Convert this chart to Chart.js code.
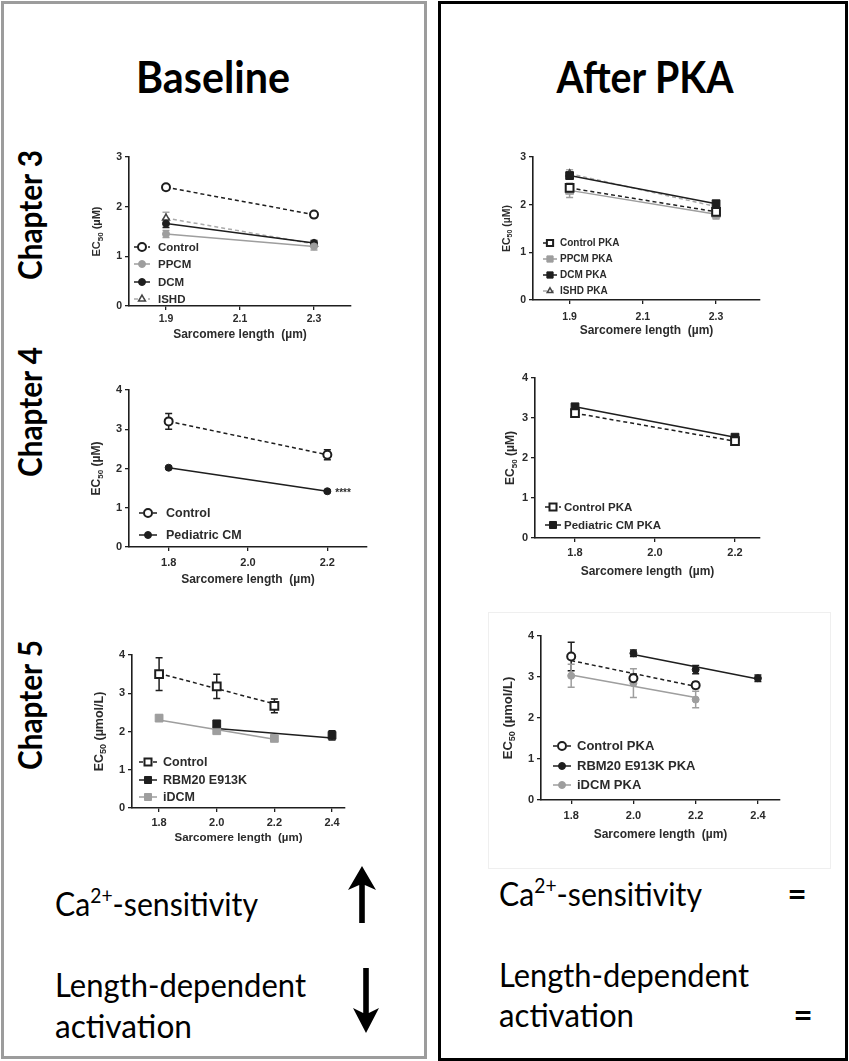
<!DOCTYPE html>
<html>
<head>
<meta charset="utf-8">
<title>EC50 vs sarcomere length</title>
<script src="https://cdn.jsdelivr.net/npm/chart.js@4.4.1/dist/chart.umd.min.js"></script>
<style>
  html, body { margin: 0; padding: 0; background: #fff; }
  body { position: relative; width: 849px; height: 1061px; overflow: hidden; }
  #frame { position: absolute; left: 0; top: 0; }
  .plot { position: absolute; }
</style>
</head>
<body>
<svg id="frame" width="849" height="1061" font-family="Lato, 'Open Sans', sans-serif" fill="#000">
  <rect x="2.5" y="2.5" width="423" height="1055" fill="none" stroke="#9c9c9c" stroke-width="3"/>
  <rect x="439.5" y="2.5" width="407" height="1057" fill="none" stroke="#000" stroke-width="3"/>
  <rect x="488.5" y="612.5" width="342" height="256" fill="none" stroke="#efefef" stroke-width="1"/>

  <text x="213" y="93" font-size="44" font-weight="bold" text-anchor="middle" textLength="154" lengthAdjust="spacingAndGlyphs">Baseline</text>
  <text x="645" y="93" font-size="44" font-weight="bold" text-anchor="middle" textLength="177" lengthAdjust="spacingAndGlyphs">After PKA</text>

  <text transform="translate(42,215) rotate(-90)" font-size="32" font-weight="bold" text-anchor="middle" textLength="130" lengthAdjust="spacingAndGlyphs">Chapter 3</text>
  <text transform="translate(42,412) rotate(-90)" font-size="32" font-weight="bold" text-anchor="middle" textLength="130" lengthAdjust="spacingAndGlyphs">Chapter 4</text>
  <text transform="translate(42,705) rotate(-90)" font-size="32" font-weight="bold" text-anchor="middle" textLength="130" lengthAdjust="spacingAndGlyphs">Chapter 5</text>

  <text x="55" y="916" font-size="33" textLength="203" lengthAdjust="spacingAndGlyphs">Ca<tspan dy="-13" font-size="21">2+</tspan><tspan dy="13">-sensitivity</tspan></text>
  <text x="55" y="997" font-size="33" textLength="251" lengthAdjust="spacingAndGlyphs">Length-dependent</text>
  <text x="55" y="1038" font-size="33" textLength="137" lengthAdjust="spacingAndGlyphs">activation</text>
  <path d="M362 866 L376 890 L364.8 885 L364.8 923 L359.2 923 L359.2 885 L348 890 Z"/>
  <path d="M366 1033 L379 1008 L368.8 1013 L368.8 968 L363.2 968 L363.2 1013 L353 1008 Z"/>

  <text x="499" y="906" font-size="33" textLength="203" lengthAdjust="spacingAndGlyphs">Ca<tspan dy="-13" font-size="21">2+</tspan><tspan dy="13">-sensitivity</tspan></text>
  <text x="797" y="906" font-size="33" font-weight="bold" text-anchor="middle">=</text>
  <text x="499" y="987" font-size="33" textLength="250" lengthAdjust="spacingAndGlyphs">Length-dependent</text>
  <text x="499" y="1027" font-size="33" textLength="135" lengthAdjust="spacingAndGlyphs">activation</text>
  <text x="803" y="1027" font-size="33" font-weight="bold" text-anchor="middle">=</text>
</svg>

<script>
// sarcomere length positions and tick labels
const slCh3 = [1.9, 2.3];
const slCh4 = [1.8, 2.2];
const slCh5 = [1.8, 2.0, 2.2, 2.4];
const xTicksCh3 = [1.9, 2.1, 2.3];
const xTicksCh4 = [1.8, 2.0, 2.2];
const xTicksCh5 = [1.8, 2.0, 2.2, 2.4];
const yTicks3 = [0, 1, 2, 3];
const yTicks4 = [0, 1, 2, 3, 4];

// Chapter 3 - baseline, EC50 (uM) mean and SEM
const labelsCh3 = ['Control', 'PPCM', 'DCM', 'ISHD'];
const ch3Control = [2.39, 1.84];
const ch3ControlSem = [0.05, 0.04];
const ch3PPCM = [1.45, 1.2];
const ch3PPCMSem = [0.07, 0.07];
const ch3DCM = [1.66, 1.27];
const ch3DCMSem = [0.08, 0.05];
const ch3ISHD = [1.77, 1.25];
const ch3ISHDSem = [0.12, 0.06];

// Chapter 3 - after PKA
const labelsCh3PKA = ['Control PKA', 'PPCM PKA', 'DCM PKA', 'ISHD PKA'];
const ch3ControlPKA = [2.35, 1.85];
const ch3ControlPKASem = [0.08, 0.06];
const ch3PPCMPKA = [2.3, 1.8];
const ch3PPCMPKASem = [0.15, 0.1];
const ch3DCMPKA = [2.61, 2.02];
const ch3DCMPKASem = [0.07, 0.06];
const ch3ISHDPKA = [2.65, 1.96];
const ch3ISHDPKASem = [0.08, 0.08];

// Chapter 4
const labelsCh4 = ['Control', 'Pediatric CM'];
const ch4Control = [3.2, 2.35];
const ch4ControlSem = [0.2, 0.13];
const ch4PedCM = [2.02, 1.42];
const ch4PedCMSem = [0.03, 0.03];
const labelsCh4PKA = ['Control PKA', 'Pediatric CM PKA'];
const ch4ControlPKA = [3.12, 2.42];
const ch4ControlPKASem = [0.05, 0.05];
const ch4PedCMPKA = [3.28, 2.52];
const ch4PedCMPKASem = [0.05, 0.05];

// Chapter 5 - EC50 (umol/L), points plus drawn fit lines
const labelsCh5 = ['Control', 'RBM20 E913K', 'iDCM'];
const ch5Control = [3.5, 3.18, 2.67, null];
const ch5ControlSem = [0.43, 0.32, 0.18, null];
const ch5ControlFit = [3.52, null, 2.72, null];
const ch5RBM20 = [null, 2.2, null, 1.9];
const ch5RBM20Sem = [null, 0.07, null, 0.12];
const ch5RBM20Fit = [null, 2.08, null, 1.83];
const ch5iDCM = [2.35, 2.02, 1.82, null];
const ch5iDCMSem = [0.08, 0.05, 0.07, null];
const ch5iDCMFit = [2.3, null, 1.8, null];

const labelsCh5PKA = ['Control PKA', 'RBM20 E913K PKA', 'iDCM PKA'];
const ch5ControlPKA = [3.5, 2.97, 2.8, null];
const ch5ControlPKASem = [0.35, 0.1, 0.08, null];
const ch5ControlPKAFit = [3.4, null, 2.77, null];
const ch5RBM20PKA = [null, 3.58, 3.18, 2.97];
const ch5RBM20PKASem = [null, 0.08, 0.1, 0.08];
const ch5RBM20PKAFit = [null, 3.55, null, 2.95];
const ch5iDCMPKA = [3.03, 2.85, 2.45, null];
const ch5iDCMPKASem = [0.28, 0.35, 0.2, null];
const ch5iDCMPKAFit = [3.05, null, 2.5, null];

const ARIAL = '"Liberation Sans", Arial, Helvetica, sans-serif';
const INK = '#1e1e1e';
const GRAY = '#9e9e9e';
const TXT = '#2b2b2b';

// marker / line looks
const openCircle = { shape: 'circle', fill: '#fff', color: INK, dash: [4, 3], r: 4, bw: 2 };
const blackCircle = { shape: 'circle', fill: INK, color: INK, r: 3.5, bw: 1 };
const grayCircle = { shape: 'circle', fill: GRAY, color: GRAY, r: 3.5, bw: 1 };
const triangle = { shape: 'triangle', fill: '#fff', color: '#444', line: '#aaaaaa', err: '#aaaaaa', dash: [4, 3], r: 4, bw: 1.5 };
const openSquare = { shape: 'rect', fill: '#fff', color: INK, dash: [4, 3], r: 5.5, bw: 2 };
const blackSquare = { shape: 'rect', fill: INK, color: INK, r: 5.5, bw: 1 };
const graySquare = { shape: 'rect', fill: GRAY, color: GRAY, r: 5.5, bw: 1 };

function pts(xs, ys, es) {
  const out = [];
  xs.forEach((x, i) => {
    if (ys[i] != null) out.push({ x: x, y: ys[i], e: es ? es[i] : 0 });
  });
  return out;
}

function series(label, xs, ys, es, st, line) {
  return {
    legendText: label,
    data: pts(xs, ys, es),
    showLine: line !== false,
    borderColor: st.line || st.color,
    borderWidth: 1.5,
    borderDash: st.dash || [],
    pointStyle: st.shape,
    pointRadius: st.r,
    pointBackgroundColor: st.fill,
    pointBorderColor: st.color,
    pointBorderWidth: st.bw,
    errColor: st.err || st.color,
    errCap: st.cap || 3.5,
    tension: 0,
    spanGaps: true
  };
}

function fit(xs, ys, st) {
  return {
    data: pts(xs, ys),
    showLine: true,
    pointRadius: 0,
    borderColor: st.line || st.color,
    borderWidth: 1.5,
    borderDash: st.dash || [],
    tension: 0,
    spanGaps: true
  };
}

const gpPlugin = {
  id: 'gp',
  beforeDatasetsDraw(chart) {
    const ctx = chart.ctx, xs = chart.scales.x, ys = chart.scales.y;
    chart.data.datasets.forEach(ds => {
      if (!ds.errCap) return;
      ctx.save();
      ctx.strokeStyle = ds.errColor;
      ctx.lineWidth = 1.5;
      ds.data.forEach(p => {
        if (!p.e) return;
        const px = xs.getPixelForValue(p.x);
        const t = ys.getPixelForValue(p.y + p.e);
        const b = ys.getPixelForValue(p.y - p.e);
        ctx.beginPath();
        ctx.moveTo(px, t); ctx.lineTo(px, b);
        ctx.moveTo(px - ds.errCap, t); ctx.lineTo(px + ds.errCap, t);
        ctx.moveTo(px - ds.errCap, b); ctx.lineTo(px + ds.errCap, b);
        ctx.stroke();
      });
      ctx.restore();
    });
  },
  afterDraw(chart, args, o) {
    const ctx = chart.ctx, area = chart.chartArea, g = o.g;
    const cx = px => area.left + (px - g.ax);
    const cy = py => area.bottom + (py - g.bottom);

    // y title with subscript
    ctx.save();
    ctx.translate(area.left + g.ytDx, (area.top + area.bottom) / 2);
    ctx.rotate(-Math.PI / 2);
    ctx.fillStyle = TXT;
    ctx.textBaseline = 'middle';
    const big = 'bold ' + g.ytSize + 'px ' + ARIAL;
    const small = 'bold ' + Math.round(g.ytSize * 0.7) + 'px ' + ARIAL;
    ctx.font = big;
    const w1 = ctx.measureText('EC').width;
    const w3 = ctx.measureText(' ' + g.unit).width;
    ctx.font = small;
    const w2 = ctx.measureText('50').width;
    let x = -(w1 + w2 + w3) / 2;
    ctx.font = big; ctx.fillText('EC', x, 0); x += w1;
    ctx.font = small; ctx.fillText('50', x, g.ytSize * 0.32); x += w2;
    ctx.font = big; ctx.fillText(' ' + g.unit, x, 0);
    ctx.restore();

    // legend inside the plot
    const L = g.legend;
    let row = 0;
    chart.data.datasets.forEach(ds => {
      if (!ds.legendText) return;
      const y = cy(L.rows[row++]);
      const mx = cx(L.mx);
      ctx.save();
      ctx.strokeStyle = ds.borderColor;
      ctx.lineWidth = 1.5;
      ctx.setLineDash(ds.borderDash);
      ctx.beginPath();
      ctx.moveTo(mx - L.half, y); ctx.lineTo(mx + L.half, y);
      ctx.stroke();
      ctx.setLineDash([]);
      ctx.fillStyle = ds.pointBackgroundColor;
      ctx.strokeStyle = ds.pointBorderColor;
      ctx.lineWidth = ds.pointBorderWidth;
      Chart.helpers.drawPoint(ctx, { pointStyle: ds.pointStyle, radius: ds.pointRadius * L.scale, borderWidth: ds.pointBorderWidth, rotation: 0 }, mx, y);
      ctx.fillStyle = TXT;
      ctx.font = 'bold ' + L.size + 'px ' + ARIAL;
      ctx.textBaseline = 'middle';
      ctx.fillText(ds.legendText, cx(L.tx), y + 0.5);
      ctx.restore();
    });

    // significance marks
    (g.notes || []).forEach(n => {
      ctx.save();
      ctx.fillStyle = TXT;
      ctx.font = 'bold 10px ' + ARIAL;
      ctx.textBaseline = 'middle';
      ctx.fillText(n.text, chart.scales.x.getPixelForValue(n.x) + n.dx, chart.scales.y.getPixelForValue(n.y) + 2);
      ctx.restore();
    });
  }
};

function makePanel(g, datasets) {
  const left = g.ax - 55, top = g.top - 10;
  const w = g.right + 8 - left;
  const h = g.titleY + 11 - top;
  const xh = g.titleY + 11 - g.bottom;

  const wrap = document.createElement('div');
  wrap.className = 'plot';
  wrap.style.left = left + 'px';
  wrap.style.top = top + 'px';
  const cv = document.createElement('canvas');
  cv.width = w; cv.height = h;
  cv.style.width = w + 'px'; cv.style.height = h + 'px';
  wrap.appendChild(cv);
  document.body.appendChild(wrap);

  const axisGrid = { display: true, drawOnChartArea: false, drawTicks: true, tickLength: 4, color: INK, lineWidth: 1.3 };
  const axisBorder = { display: true, color: INK, width: 1.6 };
  const tickFont = { family: ARIAL, size: g.tickSize, weight: 'bold' };

  new Chart(cv, {
    type: 'line',
    data: { datasets: datasets },
    plugins: [gpPlugin],
    options: {
      responsive: false,
      animation: false,
      devicePixelRatio: 1,
      layout: { padding: { left: 0, top: 10, right: 8, bottom: 0 } },
      plugins: { legend: { display: false }, tooltip: { enabled: false }, gp: { g: g } },
      scales: {
        x: {
          type: 'linear', min: g.xmin, max: g.xmax,
          afterBuildTicks: s => { s.ticks = g.xticks.map(v => ({ value: v })); },
          afterFit: s => { s.height = xh; },
          ticks: { autoSkip: false, maxRotation: 0, font: tickFont, color: TXT, padding: g.tickPad, callback: v => v.toFixed(1) },
          grid: axisGrid,
          border: axisBorder,
          title: { display: true, text: 'Sarcomere length  (µm)', color: TXT, font: { family: ARIAL, size: g.titleSize, weight: 'bold' }, padding: { top: 0, bottom: 4 } }
        },
        y: {
          type: 'linear', min: 0, max: g.ymax,
          afterBuildTicks: s => { s.ticks = g.yticks.map(v => ({ value: v })); },
          afterFit: s => { s.width = 55; },
          ticks: { autoSkip: false, font: tickFont, color: TXT, padding: 3 },
          grid: axisGrid,
          border: axisBorder
        }
      }
    }
  });
}

// Chapter 3 baseline
makePanel({
  ax: 129, top: 157, bottom: 306, right: 351, xmin: 1.8, xmax: 2.4, ymax: 3,
  xticks: xTicksCh3, yticks: yTicks3, tickSize: 10.5, tickPad: 3, titleSize: 12, titleY: 335,
  unit: '(µM)', ytSize: 11, ytDx: -32,
  legend: { rows: [247, 264, 282, 299], mx: 142, tx: 158, half: 8, size: 11.5, scale: 1 }
}, [
  series(labelsCh3[0], slCh3, ch3Control, ch3ControlSem, openCircle),
  series(labelsCh3[1], slCh3, ch3PPCM, ch3PPCMSem, grayCircle),
  series(labelsCh3[2], slCh3, ch3DCM, ch3DCMSem, blackCircle),
  series(labelsCh3[3], slCh3, ch3ISHD, ch3ISHDSem, triangle)
]);

// Chapter 3 after PKA
makePanel({
  ax: 533, top: 157, bottom: 300, right: 760, xmin: 1.8, xmax: 2.42, ymax: 3,
  xticks: xTicksCh3, yticks: yTicks3, tickSize: 10.5, tickPad: 7, titleSize: 12, titleY: 331,
  unit: '(µM)', ytSize: 10.5, ytDx: -26,
  legend: { rows: [243, 259, 275, 291], mx: 550, tx: 560, half: 7, size: 10, scale: 0.8 }
}, [
  series(labelsCh3PKA[0], slCh3, ch3ControlPKA, ch3ControlPKASem, openSquare),
  series(labelsCh3PKA[1], slCh3, ch3PPCMPKA, ch3PPCMPKASem, graySquare),
  series(labelsCh3PKA[2], slCh3, ch3DCMPKA, ch3DCMPKASem, blackSquare),
  series(labelsCh3PKA[3], slCh3, ch3ISHDPKA, ch3ISHDPKASem, triangle)
]);

// Chapter 4 baseline
makePanel({
  ax: 129, top: 390, bottom: 547, right: 367, xmin: 1.7, xmax: 2.3, ymax: 4,
  xticks: xTicksCh4, yticks: yTicks4, tickSize: 11, tickPad: 5, titleSize: 12, titleY: 580,
  unit: '(µM)', ytSize: 12, ytDx: -32,
  legend: { rows: [513, 535], mx: 148, tx: 166, half: 9, size: 12.5, scale: 1 },
  notes: [{ x: 2.2, y: ch4PedCM[1], text: '****', dx: 8 }]
}, [
  series(labelsCh4[0], slCh4, ch4Control, ch4ControlSem, openCircle),
  series(labelsCh4[1], slCh4, ch4PedCM, ch4PedCMSem, blackCircle)
]);

// Chapter 4 after PKA
makePanel({
  ax: 535, top: 378, bottom: 538, right: 760, xmin: 1.7, xmax: 2.2625, ymax: 4,
  xticks: xTicksCh4, yticks: yTicks4, tickSize: 11, tickPad: 4, titleSize: 12, titleY: 572,
  unit: '(µM)', ytSize: 12, ytDx: -24,
  legend: { rows: [507, 525], mx: 553, tx: 564, half: 8, size: 11.5, scale: 0.9 }
}, [
  series(labelsCh4PKA[0], slCh4, ch4ControlPKA, ch4ControlPKASem, openSquare),
  series(labelsCh4PKA[1], slCh4, ch4PedCMPKA, ch4PedCMPKASem, blackSquare)
]);

// Chapter 5 baseline
makePanel({
  ax: 132, top: 655, bottom: 808, right: 345, xmin: 1.706, xmax: 2.445, ymax: 4,
  xticks: xTicksCh5, yticks: yTicks4, tickSize: 11, tickPad: 4, titleSize: 11.5, titleY: 838,
  unit: '(µmol/L)', ytSize: 12.5, ytDx: -32,
  legend: { rows: [762, 780, 797], mx: 148, tx: 163, half: 9, size: 12.5, scale: 0.9 }
}, [
  series(labelsCh5[0], slCh5, ch5Control, ch5ControlSem, openSquare, false),
  series(labelsCh5[1], slCh5, ch5RBM20, ch5RBM20Sem, blackSquare, false),
  series(labelsCh5[2], slCh5, ch5iDCM, ch5iDCMSem, graySquare, false),
  fit(slCh5, ch5ControlFit, openSquare),
  fit(slCh5, ch5RBM20Fit, blackSquare),
  fit(slCh5, ch5iDCMFit, graySquare)
]);

// Chapter 5 after PKA
makePanel({
  ax: 541, top: 636, bottom: 800, right: 780, xmin: 1.703, xmax: 2.471, ymax: 4,
  xticks: xTicksCh5, yticks: yTicks4, tickSize: 11, tickPad: 5, titleSize: 12, titleY: 835,
  unit: '(µmol/L)', ytSize: 13, ytDx: -33,
  legend: { rows: [746, 766, 785], mx: 562, tx: 577, half: 9, size: 13, scale: 1 }
}, [
  series(labelsCh5PKA[0], slCh5, ch5ControlPKA, ch5ControlPKASem, openCircle, false),
  series(labelsCh5PKA[1], slCh5, ch5RBM20PKA, ch5RBM20PKASem, blackCircle, false),
  series(labelsCh5PKA[2], slCh5, ch5iDCMPKA, ch5iDCMPKASem, grayCircle, false),
  fit(slCh5, ch5ControlPKAFit, openCircle),
  fit(slCh5, ch5RBM20PKAFit, blackCircle),
  fit(slCh5, ch5iDCMPKAFit, grayCircle)
]);
</script>
</body>
</html>
